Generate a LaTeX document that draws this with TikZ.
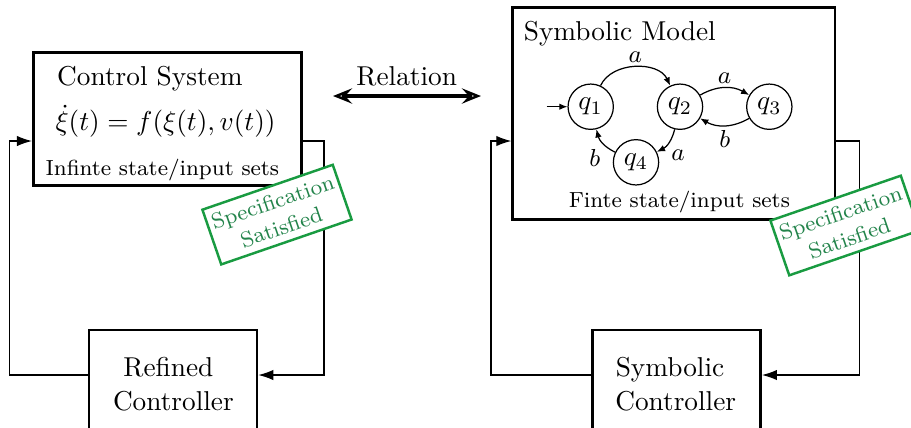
\documentclass[tikz,border=0pt]{standalone}
\usetikzlibrary{arrows.meta}
\definecolor{stampline}{RGB}{25,155,65}
\definecolor{stamptext}{RGB}{35,132,75}
\begin{document}
\begin{tikzpicture}[x=0.3663pt,y=0.3663pt,
  blockbox/.style={draw,line width=1pt,inner sep=0pt},
  wire/.style={line width=0.45pt},
  fbtip/.style={-{Latex[length=5.5pt,width=3.8pt]}},
  reltip/.style={{Stealth[open,length=7pt,width=5.6pt,inset=2.6pt,line width=0.9pt]}-{Stealth[open,length=7pt,width=5.6pt,inset=2.6pt,line width=0.9pt]}},
  state/.style={draw,circle,line width=0.45pt,minimum size=16.6pt,inner sep=0pt},
  trans/.style={line width=0.45pt,-{Latex[length=3pt,width=2.4pt]}},
  lbl/.style={font=\small,inner sep=1.5pt},
  stamp/.style={draw=stampline,line width=0.9pt,fill=white,text=stamptext,
    font=\fontsize{8}{9.8}\selectfont,align=center,minimum width=50.5pt,minimum height=21.2pt,
    inner sep=0pt,rotate=19},
  txt/.style={inner sep=0pt}]
\clip (0,-427) rectangle (911,0);

% blocks
\node[blockbox,minimum width=98.3pt,minimum height=48.7pt] (cs) at (167.5,-119.2) {};
\node[blockbox,minimum width=118.1pt,minimum height=77.7pt] (sm) at (673.9,-113.3) {};
\node[blockbox,minimum width=61.5pt,minimum height=40.3pt] (rc) at (173,-385) {};
\node[blockbox,minimum width=61.5pt,minimum height=40.3pt] (sc) at (676.6,-385) {};

% texts of the blocks
\node[txt,anchor=base west] (cst) at (56.7,-85.7) {Control System};
\node[txt,anchor=base west] (cse) at (55,-130.7) {$\dot{\xi}(t)=f(\xi(t),v(t))$};
\node[txt,anchor=base west,font=\footnotesize] (csi) at (45,-175) {Infinte state/input sets};
\node[txt,anchor=base west] (smt) at (523.3,-40.7) {Symbolic Model};
\node[txt,anchor=base west,font=\footnotesize] (smf) at (568.3,-207.3) {Finte state/input sets};
\node[txt,anchor=base] (rc1) at (168.4,-376) {Refined};
\node[txt,anchor=base] (rc2) at (173.4,-410) {Controller};
\node[txt,anchor=base] (sc1) at (670,-376) {Symbolic};
\node[txt,anchor=base] (sc2) at (675.7,-410) {Controller};

% relation between the two models
\coordinate (rl) at (333,-96);
\coordinate (rr) at (481,-96);
\draw[line width=1.3pt,reltip] (rl) -- (rr);
\node[txt,anchor=base] (rel) at (406.7,-85) {Relation};

% feedback loops
\coordinate (yfb) at (0,-141);
\coordinate (yct) at (0,-375);
\draw[wire,fbtip] (cs.east |- yfb) -- ++(21,0) |- (rc.east |- yct);
\draw[wire,fbtip] (rc.west |- yct) -- ++(-78,0) |- (cs.west |- yfb);
\draw[wire,fbtip] (sm.east |- yfb) -- ++(23,0) |- (sc.east |- yct);
\draw[wire,fbtip] (sc.west |- yct) -- ++(-100.3,0) |- (sm.west |- yfb);

% automaton
\node[state] (q1) at (590.7,-106.7) {$q_1$};
\node[state] (q2) at (680,-106.7) {$q_2$};
\node[state] (q3) at (769.3,-106.7) {$q_3$};
\node[state] (q4) at (636,-162.3) {$q_4$};
\coordinate (qin) at (546.7,-106.7);
\draw[trans] (qin) -- (q1);
\draw[trans] (q1) to[bend left=65] node[lbl,auto] {$a$} (q2);
\draw[trans] (q2) to[bend left=30] node[lbl,auto] {$a$} (q3);
\draw[trans] (q3) to[bend left=30] node[lbl,auto] {$b$} (q2);
\draw[trans] (q2) to[bend left=25] node[lbl,auto,pos=0.6] {$a$} (q4);
\draw[trans] (q4) to[bend left=25] node[lbl,auto,pos=0.4] {$b$} (q1);

% stamps
\node[stamp] (st1) at (277,-214.6) {Specification\\Satisfied};
\node[stamp] (st2) at (845,-225.5) {Specification\\Satisfied};
\end{tikzpicture}
\end{document}
